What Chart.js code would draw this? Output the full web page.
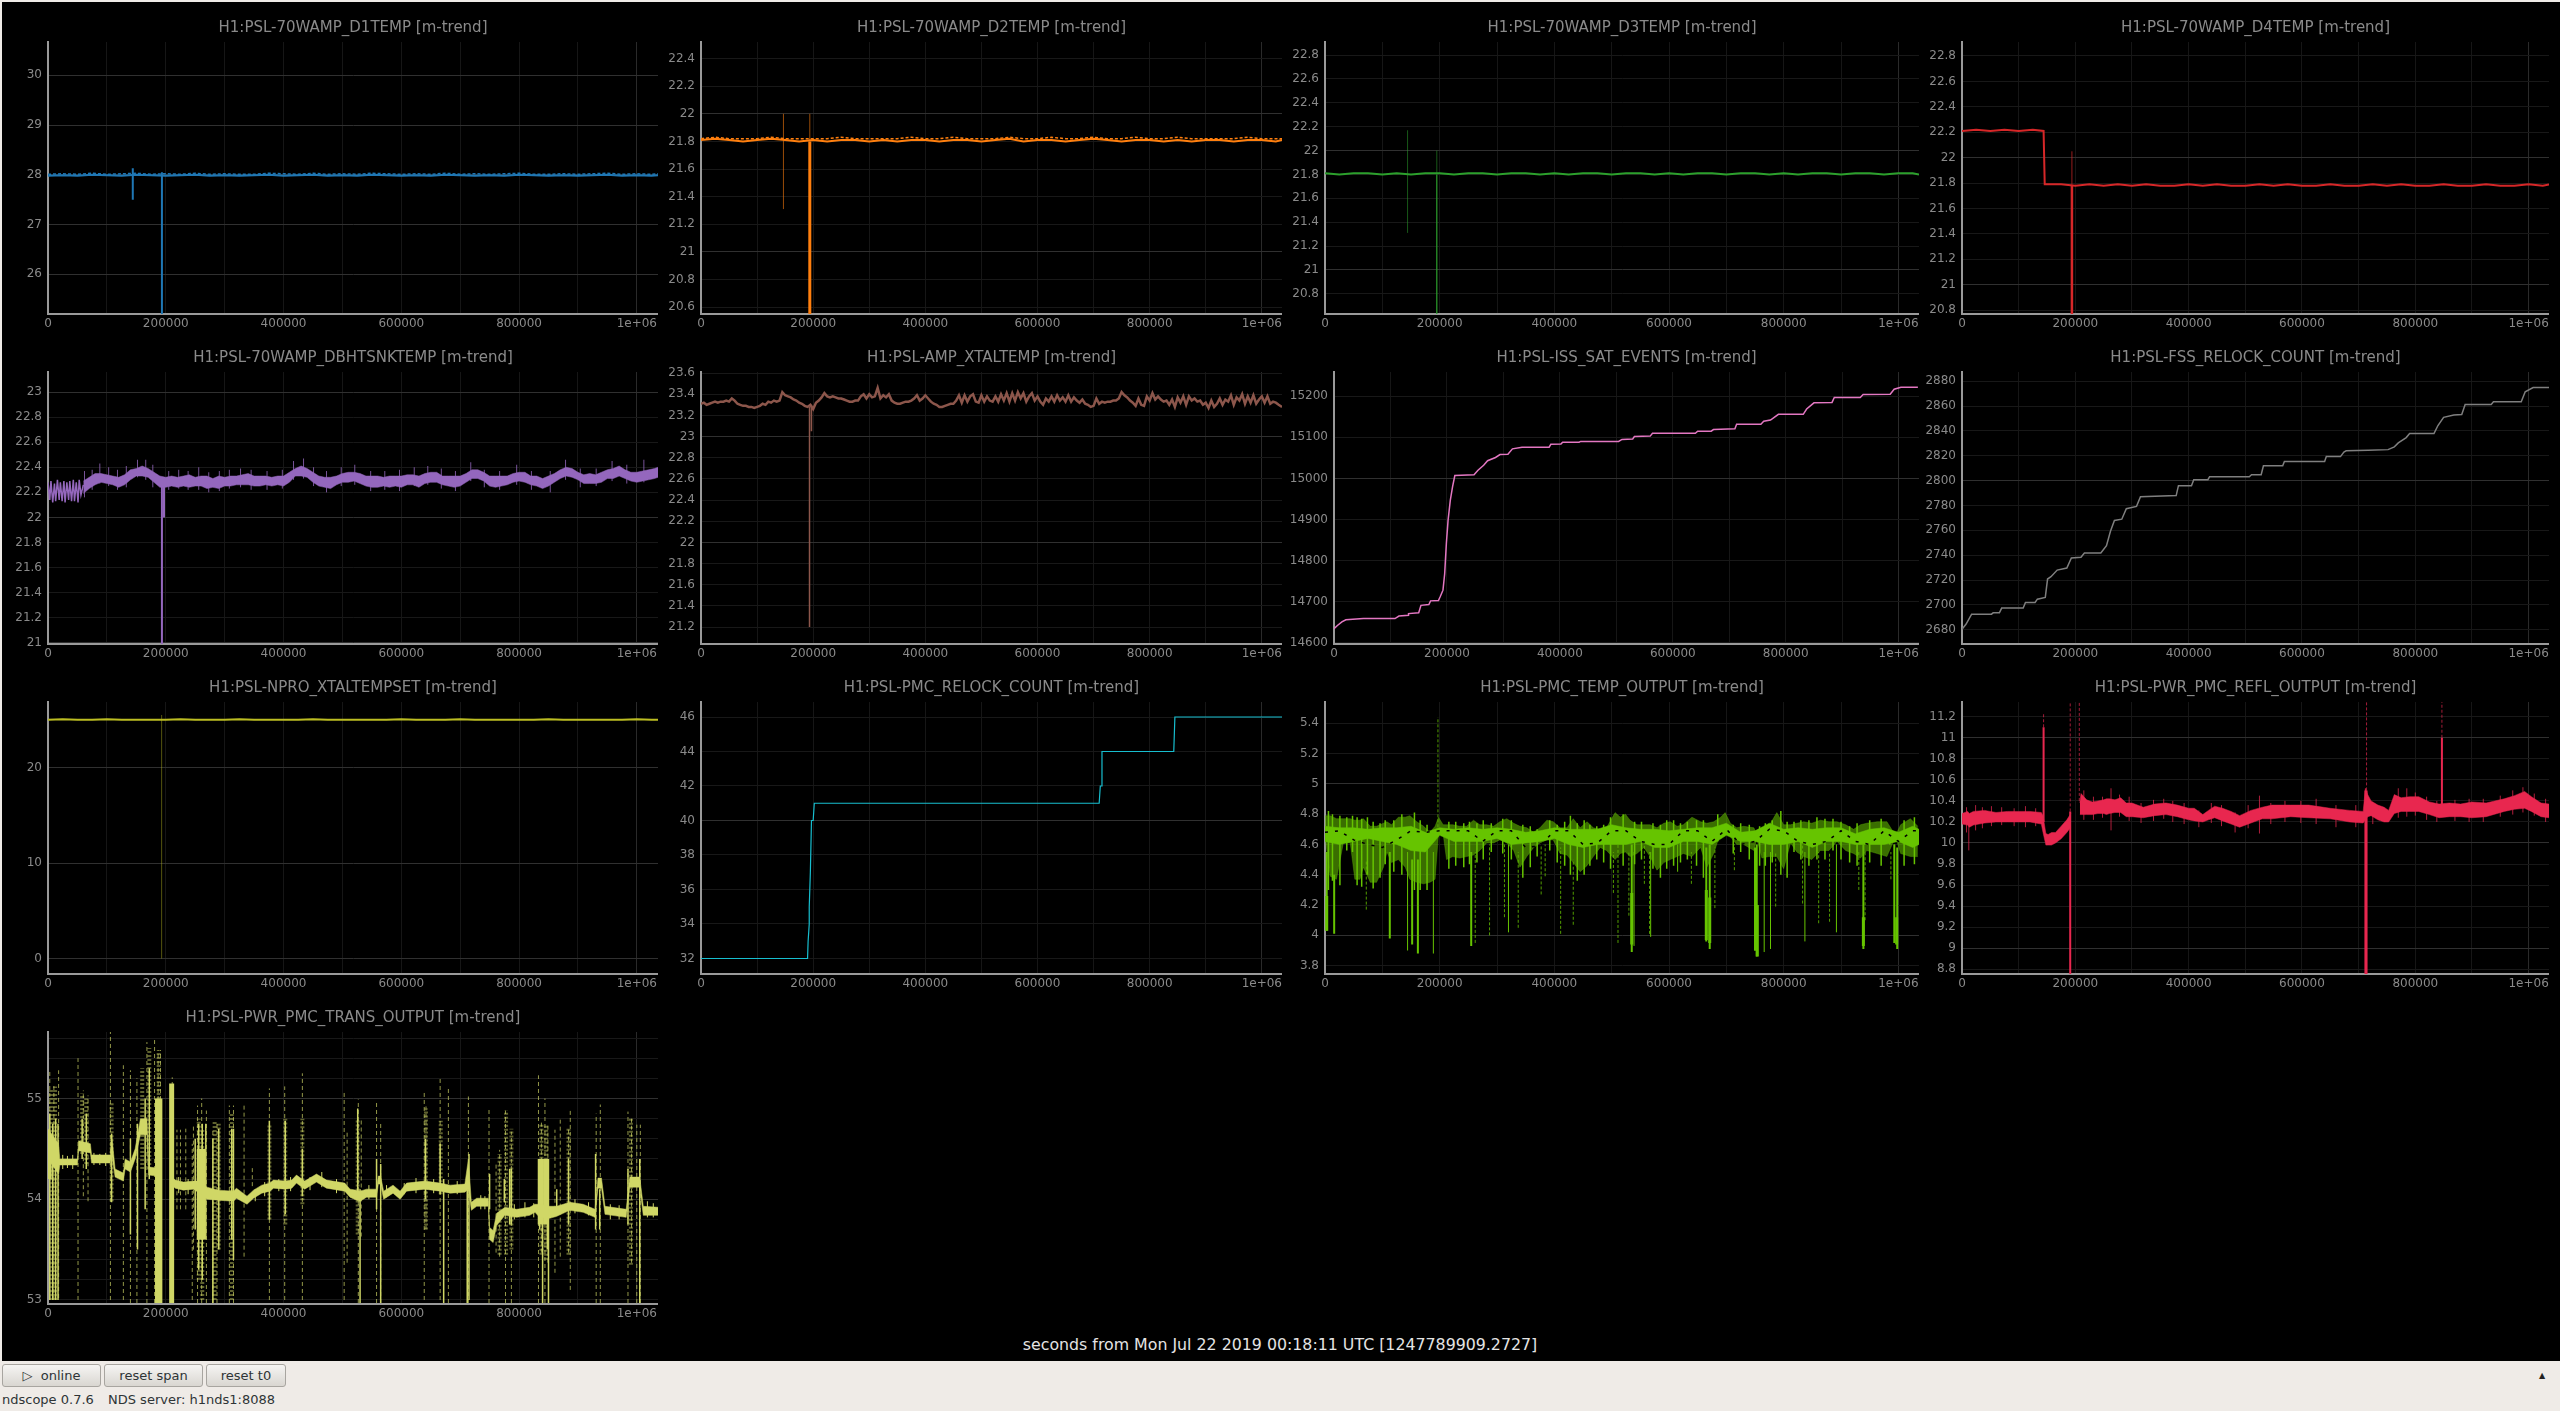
<!DOCTYPE html>
<html>
<head>
<meta charset="utf-8">
<title>ndscope</title>
<script src="https://cdn.jsdelivr.net/npm/chart.js@4/dist/chart.umd.min.js"></script>
<style>
    html, body { margin: 0; padding: 0; width: 2560px; height: 1411px; overflow: hidden; background: #efebe7; font-family: "DejaVu Sans", sans-serif; }
    #scope { position: absolute; left: 2px; top: 2px; width: 2558px; height: 1359px; background: #000; }
    canvas { position: absolute; }
    #xlabel { position: absolute; left: 900px; width: 760px; top: 1335px; text-align: center; color: #e4e4e4; font-size: 15.8px; line-height: 20px; }
    .btn { position: absolute; top: 1364px; height: 23px; box-sizing: border-box; border: 1px solid #a8a5a0; border-radius: 3px; background: linear-gradient(#f6f5f3, #d9d6d1); color: #2e3436; font-size: 13px; line-height: 21px; text-align: center; }
    .status { position: absolute; top: 1391px; color: #2e3436; font-size: 13px; line-height: 18px; white-space: pre; }
    #arrow { position: absolute; left: 2539px; top: 1371px; color: #222; font-size: 8px; line-height: 10px; }
</style>
</head>
<body>
<div id="scope"></div>
<div id="xlabel">seconds from Mon Jul 22 2019 00:18:11 UTC [1247789909.2727]</div>
<div class="btn" style="left:2px;width:99px">&#9655;&nbsp;&nbsp;online</div>
<div class="btn" style="left:104px;width:99px">reset span</div>
<div class="btn" style="left:206px;width:80px">reset t0</div>
<div class="status" style="left:2px">ndscope 0.7.6</div>
<div class="status" style="left:108px">NDS server: h1nds1:8088</div>
<div id="arrow">&#9650;</div>
<script>
// all x values below are in thousands of seconds
const xGrid = [0, 100000, 200000, 300000, 400000, 500000, 600000, 700000, 800000, 900000, 1000000];
const xLabels = ['0', '', '200000', '', '400000', '', '600000', '', '800000', '', '1e+06'];

const coarseX = [0,25,50,75,100,125,150,175,200,225,250,275,300,325,350,375,400,425,450,475,500,525,550,575,600,625,650,675,700,725,750,775,800,825,850,875,900,925,950,975,1000,1025,1036];
const gridX = [60,70,80,90,100,110,120,130,140,150,
    160,170,180,190,200,210,220,230,240,250,
    260,270,280,290,300,310,320,330,340,350,
    360,370,380,390,400,410,420,430,440,450,
    460,470,480,490,500,510,520,530,540,550,
    560,570,580,590,600,610,620,630,640,650,
    660,670,680,690,700,710,720,730,740,750,
    760,770,780,790,800,810,820,830,840,850,
    860,870,880,890,900,910,920,930,940,950,
    960,970,980,990,1000,1010,1020,1030,1036];

// D1
const d1Ticks = [26, 27, 28, 29, 30];
const d1Y = [27.98,27.99,27.98,28.00,27.99,27.98,28.00,27.99,27.98,27.99,28.00,27.98,27.99,27.98,27.99,28.00,27.98,27.99,28.00,27.98,27.99,27.98,28.00,27.99,27.98,27.99,27.98,28.00,27.99,27.98,27.99,27.98,28.00,27.99,27.98,27.99,27.98,27.99,28.00,27.98,27.99,27.98,27.99];
const d1Hi = [28.01,28.02,28.01,28.03,28.01,28.02,28.03,28.01,28.02,28.01,28.03,28.01,28.02,28.01,28.01,28.03,28.02,28.01,28.03,28.01,28.02,28.01,28.03,28.02,28.01,28.02,28.01,28.03,28.01,28.02,28.01,28.02,28.03,28.01,28.01,28.02,28.01,28.02,28.03,28.01,28.02,28.01,28.02];
const d1SpikeX = [144, 193.5];
const d1SpikeLo = [27.5, 25.2];
const d1SpikeHi = [28.13, 28.05];

// D2
const d2Ticks = [20.6,20.8,21,21.2,21.4,21.6,21.8,22,22.2,22.4];
const d2Major = [21, 22];
const d2Y = [21.81,21.82,21.81,21.80,21.81,21.82,21.81,21.80,21.81,21.80,21.81,21.81,21.80,21.81,21.80,21.81,21.81,21.80,21.81,21.81,21.80,21.81,21.82,21.80,21.81,21.81,21.80,21.81,21.82,21.81,21.80,21.81,21.81,21.80,21.81,21.80,21.81,21.81,21.80,21.81,21.81,21.80,21.81];
const d2Hi = [21.82,21.83,21.82,21.82,21.82,21.83,21.82,21.82,21.82,21.82,21.83,21.82,21.82,21.82,21.82,21.83,21.82,21.82,21.83,21.82,21.82,21.82,21.83,21.82,21.82,21.83,21.82,21.82,21.83,21.82,21.82,21.83,21.82,21.82,21.83,21.82,21.82,21.82,21.82,21.83,21.82,21.82,21.82];
const d2ThinX = [147, 194];
const d2ThinLo = [21.31, 21.8];
const d2ThinHi = [22.0, 22.0];
const d2DropX = [194];
const d2DropLo = [20.55];
const d2DropHi = [21.8];

// D3
const d3Ticks = [20.8,21,21.2,21.4,21.6,21.8,22,22.2,22.4,22.6,22.8];
const d3Major = [21, 22];
const d3Y = [21.81,21.80,21.81,21.81,21.80,21.81,21.80,21.81,21.81,21.80,21.81,21.81,21.80,21.81,21.81,21.80,21.81,21.80,21.81,21.81,21.80,21.81,21.81,21.80,21.81,21.80,21.81,21.81,21.80,21.81,21.81,21.80,21.81,21.80,21.81,21.81,21.80,21.81,21.81,21.80,21.81,21.81,21.80];
const d3ThinX = [144, 195];
const d3ThinLo = [21.31, 21.8];
const d3ThinHi = [22.17, 22.0];
const d3DropX = [195];
const d3DropLo = [20.63];
const d3DropHi = [21.8];

// D4
const d4Ticks = [20.8,21,21.2,21.4,21.6,21.8,22,22.2,22.4,22.6,22.8];
const d4Major = [21, 22];
const d4X = [0,25,50,75,100,125,144,146,175,200,225,250,275,300,325,350,375,400,425,450,475,500,525,550,575,600,625,650,675,700,725,750,775,800,825,850,875,900,925,950,975,1000,1025,1036];
const d4Y = [22.21,22.22,22.21,22.22,22.21,22.22,22.21,21.79,21.79,21.78,21.79,21.78,21.79,21.78,21.79,21.78,21.78,21.79,21.78,21.79,21.78,21.78,21.79,21.78,21.79,21.78,21.78,21.79,21.78,21.78,21.79,21.78,21.79,21.78,21.78,21.79,21.78,21.78,21.79,21.78,21.78,21.79,21.78,21.79];
const d4ThinX = [194];
const d4ThinLo = [21.78];
const d4ThinHi = [22.05];
const d4DropX = [194];
const d4DropLo = [20.77];
const d4DropHi = [21.78];

// DBHTSNK
const dbhTicks = [21,21.2,21.4,21.6,21.8,22,22.2,22.4,22.6,22.8,23];
const dbhMajor = [21, 22, 23];
const dbhSawX = [0,3,5,8,11,13,16,19,21,24,27,29,32,35,37,40,43,45,48,51,53,56,60];
const dbhSawY = [22.28,22.14,22.29,22.12,22.27,22.13,22.30,22.14,22.28,22.13,22.29,22.12,22.28,22.14,22.29,22.13,22.30,22.13,22.28,22.12,22.30,22.18,22.26];
const dbhHi = [22.29,22.32,22.35,22.35,22.34,22.33,22.32,22.34,22.38,22.39,
    22.41,22.39,22.36,22.33,22.32,22.33,22.32,22.33,22.34,22.32,
    22.33,22.33,22.31,22.33,22.32,22.33,22.33,22.34,22.35,22.33,
    22.33,22.33,22.32,22.33,22.33,22.36,22.39,22.41,22.39,22.36,
    22.33,22.32,22.32,22.33,22.35,22.36,22.36,22.35,22.33,22.33,
    22.33,22.32,22.33,22.33,22.33,22.34,22.34,22.33,22.35,22.36,
    22.36,22.33,22.33,22.33,22.33,22.35,22.38,22.38,22.36,22.33,
    22.33,22.33,22.33,22.35,22.36,22.36,22.33,22.33,22.31,22.33,
    22.35,22.38,22.40,22.39,22.36,22.34,22.35,22.34,22.36,22.38,
    22.39,22.41,22.38,22.36,22.36,22.37,22.38,22.39,22.40];
const dbhLo = [22.19,22.23,22.26,22.28,22.27,22.26,22.24,22.26,22.30,22.33,
    22.33,22.32,22.28,22.24,22.24,22.25,22.24,22.25,22.24,22.25,
    22.25,22.23,22.24,22.23,22.25,22.25,22.26,22.26,22.26,22.25,
    22.25,22.26,22.25,22.26,22.25,22.28,22.33,22.33,22.32,22.28,
    22.25,22.24,22.23,22.26,22.28,22.28,22.29,22.27,22.25,22.24,
    22.24,22.25,22.24,22.25,22.24,22.26,22.26,22.24,22.27,22.28,
    22.28,22.26,22.25,22.24,22.25,22.28,22.31,22.31,22.29,22.25,
    22.24,22.25,22.26,22.28,22.29,22.28,22.26,22.25,22.23,22.25,
    22.28,22.31,22.33,22.32,22.30,22.27,22.27,22.27,22.28,22.31,
    22.31,22.33,22.31,22.29,22.28,22.29,22.30,22.31,22.32];
const dbhSpikeX = [193.5, 197];
const dbhSpikeLo = [20.99, 22.0];
const dbhSpikeHi = [22.28, 22.3];
const dbhHairX = [62,75,88,103,118,133,152,166,178,205,222,238,256,273,291,308,327,345,372,398,417,434,451,473,498,521,548,572,597,622,645,668,692,718,741,767,796,821,853,879,904,931,958,983,1012];
const dbhHairHi = [22.37,22.38,22.43,22.40,22.38,22.41,22.46,22.46,22.42,22.37,22.38,22.37,22.40,22.36,22.37,22.38,22.39,22.38,22.37,22.38,22.45,22.47,22.40,22.37,22.40,22.42,22.37,22.37,22.38,22.40,22.41,22.39,22.37,22.44,22.38,22.37,22.42,22.37,22.37,22.46,22.39,22.39,22.45,22.42,22.46];
const dbhHairLo = [22.16,22.22,22.27,22.25,22.22,22.24,22.32,22.30,22.24,22.22,22.23,22.22,22.22,22.20,22.21,22.23,22.24,22.22,22.22,22.23,22.30,22.31,22.25,22.20,22.25,22.26,22.21,22.22,22.21,22.25,22.26,22.23,22.21,22.29,22.24,22.22,22.26,22.22,22.20,22.30,22.24,22.25,22.29,22.27,22.28];

// XTAL
const xtalTicks = [21.2,21.4,21.6,21.8,22,22.2,22.4,22.6,22.8,23,23.2,23.4,23.6];
const xtalMajor = [22, 23];
const xtalX = [0,5,10,15,20,25,30,35,40,45,50,55,60,65,70,75,80,85,90,95,
    100,105,110,115,120,125,130,135,140,145,150,155,160,165,170,175,180,185,190,195,
    200,205,210,215,220,225,230,235,240,245,250,255,260,265,270,275,280,285,290,295,
    300,305,310,315,320,325,330,335,340,345,350,355,360,365,370,375,380,385,390,395,
    400,405,410,415,420,425,430,435,440,445,450,455,460,465,470,475,480,485,490,495,
    500,505,510,515,520,525,530,535,540,545,550,555,560,565,570,575,580,585,590,595,
    600,605,610,615,620,625,630,635,640,645,650,655,660,665,670,675,680,685,690,695,
    700,705,710,715,720,725,730,735,740,745,750,755,760,765,770,775,780,785,790,795,
    800,805,810,815,820,825,830,835,840,845,850,855,860,865,870,875,880,885,890,895,
    900,905,910,915,920,925,930,935,940,945,950,955,960,965,970,975,980,985,990,995,
    1000,1005,1010,1015,1020,1025,1030,1036];
const xtalY = [23.31,23.32,23.30,23.31,23.32,23.33,23.32,23.33,23.33,23.34,23.33,23.36,23.34,23.31,23.30,23.29,23.29,23.28,23.28,23.27,
    23.28,23.29,23.31,23.30,23.33,23.32,23.34,23.33,23.34,23.42,23.39,23.38,23.37,23.35,23.34,23.32,23.31,23.29,23.28,23.30,
    23.26,23.32,23.34,23.37,23.41,23.38,23.37,23.38,23.37,23.36,23.36,23.35,23.34,23.33,23.33,23.34,23.34,23.38,23.40,23.36,
    23.40,23.37,23.38,23.46,23.36,23.39,23.37,23.40,23.34,23.32,23.31,23.31,23.32,23.33,23.33,23.34,23.36,23.39,23.34,23.36,
    23.39,23.36,23.33,23.31,23.30,23.28,23.28,23.29,23.30,23.31,23.31,23.34,23.39,23.32,23.39,23.33,23.38,23.40,23.33,23.32,
    23.39,23.33,23.38,23.34,23.33,23.38,23.33,23.40,23.34,23.41,23.33,23.41,23.34,23.42,23.36,23.41,23.33,23.38,23.41,23.34,
    23.38,23.33,23.30,23.36,23.33,23.38,23.33,23.39,23.34,23.37,23.33,23.39,23.33,23.37,23.34,23.32,23.35,23.31,23.30,23.28,
    23.29,23.36,23.31,23.33,23.32,23.33,23.33,23.34,23.34,23.36,23.42,23.39,23.37,23.34,23.32,23.29,23.36,23.30,23.29,23.38,
    23.34,23.41,23.35,23.38,23.35,23.33,23.34,23.30,23.35,23.28,23.37,23.32,23.38,23.30,23.38,23.34,23.36,23.33,23.34,23.30,
    23.32,23.27,23.34,23.28,23.31,23.36,23.30,23.35,23.33,23.39,23.30,23.37,23.34,23.40,23.31,23.38,23.32,23.39,23.31,23.35,
    23.38,23.32,23.38,23.31,23.33,23.32,23.30,23.28];
const xtalSpikeX = [193.5, 197];
const xtalSpikeLo = [21.2, 23.05];
const xtalSpikeHi = [23.28, 23.3];

// ISS_SAT_EVENTS
const issTicks = [14600,14700,14800,14900,15000,15100,15200];
const issMajor = [15000];
const issX = [0,6,14,21,52,108,115,132,132,150,154,168,171,185,188,193,196,199,202,206,210,214,248,255,265,272,286,294,308,316,333,381,384,402,405,434,437,504,510,529,532,560,564,640,644,668,672,710,713,756,761,773,787,831,837,850,882,886,932,937,985,992,1004,1034];
const issY = [14634,14642,14651,14656,14659,14659,14665,14667,14671,14673,14691,14693,14702,14703,14712,14728,14768,14842,14898,14947,14980,15007,15009,15020,15032,15043,15051,15058,15059,15072,15076,15076,15083,15084,15088,15088,15090,15090,15095,15096,15102,15103,15110,15110,15115,15115,15119,15121,15132,15132,15139,15142,15156,15156,15169,15184,15185,15197,15197,15204,15205,15217,15222,15222];

// FSS_RELOCK_COUNT
const fssTicks = [2680,2700,2720,2740,2760,2780,2800,2820,2840,2860,2880];
const fssMajor = [2800];
const fssX = [0,7,17,52,55,66,70,108,112,129,133,147,151,157,168,185,193,210,216,245,255,262,269,282,290,308,315,378,382,405,409,434,437,507,511,528,532,566,569,640,643,668,674,678,717,752,763,770,784,790,833,840,850,868,882,888,934,938,987,994,1008,1036];
const fssY = [2680.4,2684.4,2692.5,2692.5,2693.6,2693.6,2697.4,2697.4,2702,2702,2704.6,2706,2720.8,2722.7,2728,2729.7,2737.8,2738.3,2741.8,2741.8,2747.7,2759.3,2768,2769,2777.4,2779.3,2787,2788,2796,2796,2800.8,2800.8,2803.2,2803.2,2804.8,2804.8,2812,2812,2815.4,2815.4,2819.4,2819.4,2823,2824,2824.5,2825,2827.2,2830.4,2834.7,2838,2838,2844.4,2851,2852.8,2853.3,2861.4,2861.4,2863.6,2863.6,2871.6,2875,2875];

// NPRO_XTALTEMPSET
const nproTicks = [0, 10, 20];
const nproY = [25,25.05,25,25,25.05,25,25,25,25,25.05,25,25,25,25.05,25,25,25,25,25.05,25,25,25,25,25,25.05,25,25,25,25.05,25,25,25,25,25,25.05,25,25,25,25,25,25.05,25,25];
const nproSpikeX = [193];
const nproSpikeLo = [0];
const nproSpikeHi = [25.5];

// PMC_RELOCK_COUNT
const relockTicks = [32,34,36,38,40,42,44,46];
const relockMajor = [40];
const relockX = [0,190,191,193,193,195,197,200,202,710,712,714,715,843,845,1036];
const relockY = [32,32,33,34,35,37,40,40,41,41,42,42,44,44,46,46];

// PMC_TEMP_OUTPUT
const tempTicks = [3.8,4,4.2,4.4,4.6,4.8,5,5.2,5.4];
const tempMajor = [4, 5];
const tempX = [0,9,20,32,44,52,61,67,79,90,
    102,108,116,128,140,148,160,172,183,192,
    198,206,212,223,235,247,259,270,282,294,
    305,317,329,340,352,364,375,387,398,410,
    422,433,445,457,468,480,491,506,515,524,
    532,544,556,567,579,591,602,614,625,640,
    655,666,678,690,698,707,718,730,748,753,
    762,774,788,800,812,823,835,849,864,879,
    893,908,922,934,945,963,980,995,1004,1021,
    1034];
const tempHi = [4.79,4.79,4.77,4.77,4.77,4.76,4.76,4.77,4.72,4.72,
    4.74,4.75,4.73,4.78,4.78,4.79,4.75,4.72,4.68,4.72,
    4.78,4.73,4.73,4.73,4.72,4.72,4.76,4.73,4.73,4.72,
    4.75,4.77,4.74,4.72,4.71,4.68,4.71,4.76,4.75,4.71,
    4.71,4.77,4.71,4.75,4.71,4.70,4.71,4.81,4.78,4.80,
    4.76,4.73,4.73,4.73,4.71,4.74,4.75,4.72,4.73,4.78,
    4.75,4.74,4.75,4.78,4.81,4.74,4.71,4.72,4.71,4.67,
    4.71,4.72,4.81,4.73,4.73,4.74,4.75,4.74,4.76,4.75,
    4.75,4.73,4.70,4.73,4.74,4.75,4.75,4.66,4.73,4.77,
    4.72];
const tempLo = [4.65,4.39,4.37,4.61,4.61,4.37,4.37,4.45,4.35,4.35,
    4.45,4.55,4.48,4.50,4.45,4.37,4.35,4.34,4.35,4.37,
    4.67,4.67,4.50,4.52,4.51,4.52,4.53,4.56,4.61,4.61,
    4.63,4.61,4.56,4.45,4.52,4.58,4.61,4.63,4.63,4.54,
    4.53,4.48,4.42,4.46,4.52,4.58,4.56,4.50,4.54,4.55,
    4.52,4.54,4.58,4.52,4.43,4.48,4.50,4.52,4.54,4.52,
    4.58,4.45,4.54,4.68,4.69,4.65,4.60,4.60,4.56,4.64,
    4.51,4.52,4.52,4.44,4.61,4.55,4.52,4.50,4.56,4.56,
    4.62,4.56,4.54,4.51,4.56,4.54,4.52,4.65,4.54,4.52,
    4.52];
const tempCoreHi = [4.72,4.71,4.71,4.70,4.71,4.71,4.72,4.68,4.71,4.70,4.71,4.70,4.71,4.70,4.68,4.69,4.71,4.70,4.70,4.70,4.73,4.71,4.70,4.70,4.69,4.70,4.71,4.71,4.74,4.68,4.69,4.74,4.70,4.71,4.70,4.71,4.71,4.67,4.70,4.71,4.68,4.72,4.70];
const tempCoreLo = [4.62,4.60,4.62,4.64,4.62,4.60,4.56,4.55,4.66,4.62,4.62,4.62,4.64,4.60,4.61,4.62,4.64,4.60,4.58,4.60,4.60,4.60,4.62,4.58,4.58,4.62,4.62,4.60,4.66,4.62,4.62,4.60,4.60,4.62,4.58,4.62,4.62,4.60,4.60,4.60,4.62,4.58,4.60];
const tempHole = [4.68,4.69,4.63,4.60,4.58,4.63,4.69,4.68,4.69,4.69,4.69,4.62,4.69,4.69,4.58,4.59,4.69,4.69,4.60,4.61,4.69,4.69,4.62,4.60,4.60,4.69,4.69,4.62,4.70,4.60,4.62,4.70,4.69,4.62,4.60,4.62,4.69,4.62,4.60,4.69,4.62,4.69,4.69];
const tempHairX = [6,13,26,38,48,56,64,74,84,96,105,120,134,156,166,178,216,228,242,252,265,276,290,310,325,345,358,370,392,405,418,428,440,452,462,474,486,498,520,540,552,572,585,596,608,620,632,648,660,685,712,725,740,758,768,780,795,806,818,830,844,858,872,886,900,915,928,950,970,985,1010,1028];
const tempHairLo = [4.30,4.36,4.33,4.56,4.55,4.33,4.32,4.40,4.31,4.38,
    4.47,4.42,4.40,4.30,4.30,4.30,4.44,4.46,4.45,4.47,
    4.48,4.50,4.55,4.54,4.50,4.38,4.45,4.52,4.56,4.48,
    4.46,4.40,4.36,4.40,4.46,4.50,4.48,4.44,4.46,4.47,
    4.50,4.44,4.38,4.44,4.46,4.48,4.50,4.46,4.38,4.62,
    4.54,4.55,4.50,4.46,4.46,4.48,4.40,4.38,4.55,4.50,
    4.46,4.50,4.50,4.56,4.50,4.48,4.46,4.48,4.46,4.60,
    4.46,4.47];
const tempHairHi = [4.82,4.80,4.79,4.78,4.79,4.78,4.77,4.78,4.75,4.74,
    4.76,4.76,4.80,4.81,4.76,4.73,4.75,4.75,4.74,4.75,
    4.74,4.76,4.74,4.77,4.76,4.73,4.72,4.70,4.76,4.73,
    4.75,4.79,4.74,4.76,4.73,4.72,4.73,4.78,4.80,4.75,
    4.75,4.74,4.73,4.76,4.76,4.74,4.75,4.76,4.76,4.80,
    4.73,4.74,4.73,4.72,4.74,4.76,4.82,4.75,4.75,4.76,
    4.76,4.78,4.77,4.77,4.75,4.72,4.74,4.76,4.77,4.68,
    4.76,4.78];
const tempThickX = [3,16,113,152,162,255,535,665,671,750,753,939,993,998];
const tempThickLo = [4.03,4.01,3.98,3.94,3.88,3.93,3.89,3.96,3.91,3.90,3.86,3.91,3.95,3.91];
const tempThickHi = [4.55,4.40,4.55,4.50,4.50,4.55,4.60,4.58,4.60,4.58,4.60,4.60,4.60,4.58];
const tempBlockX = [3,535,665,671,751,754,939,997];
const tempBlockLo = [4.03,3.94,3.97,3.95,3.90,3.86,3.93,3.94];
const tempBlockHi = [4.26,4.28,4.30,4.25,4.22,4.20,4.12,4.12];
const tempThinX = [144,189,320,539,568,615,766,777,837,892,993];
const tempThinLo = [3.90,3.88,4.02,3.93,3.99,4.42,3.89,3.91,3.96,4.02,3.95];
const tempThinHi = [4.55,4.55,4.60,4.55,4.55,4.60,4.55,4.55,4.55,4.60,4.60];
const tempDashX = [72,197,262,287,313,337,377,384,411,433,503,511,530,557,566,639,680,714,786,833,861,880,931,942,987];
const tempDashLo = [4.17,4.68,3.95,4.00,4.12,4.05,4.27,4.39,4.01,4.07,4.28,3.95,4.13,4.34,4.01,4.34,4.18,4.43,4.19,4.21,4.08,4.09,4.30,4.10,4.37];
const tempDashHi = [4.50,5.44,4.55,4.60,4.60,4.55,4.60,4.60,4.58,4.50,4.55,4.60,4.55,4.60,4.55,4.55,4.58,4.60,4.55,4.60,4.55,4.55,4.55,4.55,4.55];

// PWR_PMC_REFL_OUTPUT
const reflTicks = [8.8,9,9.2,9.4,9.6,9.8,10,10.2,10.4,10.6,10.8,11,11.2];
const reflMajor = [9, 10, 11];
const reflX = [0,10,13,20,40,60,80,100,120,140,
    143,148,152,158,165,175,185,192,200,208,210,
    220,230,240,250,255,260,270,280,290,300,
    320,340,360,380,400,410,425,435,446,460,
    475,490,510,530,547,580,612,650,684,708,
    712,716,722,734,745,753,763,775,790,806,
    825,842,860,880,900,925,957,975,993,1005,
    1022,1036];
const reflHi = [10.28,10.30,10.28,10.30,10.31,10.29,10.30,10.30,10.30,10.29,
    10.26,10.09,10.08,10.10,10.10,10.16,10.22,10.28,null,10.38,10.47,
    10.41,10.39,10.40,10.41,10.42,10.42,10.41,10.43,10.38,10.38,
    10.34,10.37,10.38,10.36,10.33,10.33,10.27,10.31,10.35,10.33,
    10.30,10.26,10.31,10.34,10.36,10.36,10.36,10.33,10.31,10.30,
    10.52,10.46,10.40,10.36,10.34,10.31,10.46,10.43,10.44,10.44,
    10.39,10.37,10.38,10.37,10.39,10.38,10.42,10.45,10.49,10.44,
    10.38,10.37];
const reflLo = [10.18,10.17,10.15,10.17,10.19,10.20,10.20,10.20,10.20,10.18,
    10.10,9.98,9.98,9.98,10.00,10.04,10.10,10.15,null,10.27,10.27,
    10.27,10.27,10.28,10.28,10.27,10.28,10.29,10.29,10.25,10.25,
    10.24,10.26,10.27,10.25,10.22,10.21,10.20,10.22,10.24,10.21,
    10.18,10.15,10.19,10.23,10.23,10.25,10.24,10.23,10.20,10.19,
    10.22,10.25,10.26,10.22,10.20,10.20,10.28,10.30,10.30,10.30,
    10.27,10.24,10.25,10.25,10.24,10.25,10.30,10.32,10.33,10.30,
    10.25,10.24];
const reflSolidX = [144, 191, 712, 714, 847];
const reflSolidLo = [10.2, 8.755, 8.755, 8.755, 10.35];
const reflSolidHi = [11.1, 10.3, 10.5, 10.5, 11.0];
const reflDashX = [144, 191, 207, 714, 847];
const reflDashLo = [11.1, 10.3, 10.4, 10.5, 11.0];
const reflDashHi = [11.24, 11.34, 11.34, 11.34, 11.34];
const reflHairX = [8,12,24,36,52,70,92,112,130,215,232,248,263,278,295,316,338,356,372,392,418,440,458,482,505,525,545,570,598,625,660,695,725,770,785,800,820,838,870,895,920,950,972,990,1010,1030];
const reflHairHi = [10.34,10.2,10.36,10.34,10.35,10.34,10.33,10.35,10.33,10.50,10.44,10.44,10.52,10.46,10.44,10.38,10.41,10.42,10.40,10.38,10.31,10.38,10.36,10.29,10.36,10.45,10.38,10.40,10.40,10.42,10.36,10.36,10.38,10.52,10.52,10.48,10.44,10.40,10.41,10.42,10.42,10.45,10.50,10.53,10.47,10.42];
const reflHairLo = [10.10,9.93,10.12,10.14,10.16,10.17,10.16,10.15,10.16,10.22,10.22,10.24,10.12,10.25,10.21,10.19,10.21,10.23,10.20,10.18,10.15,10.19,10.16,10.10,10.14,10.09,10.18,10.20,10.19,10.18,10.15,10.15,10.18,10.24,10.25,10.26,10.22,10.20,10.21,10.20,10.20,10.25,10.27,10.29,10.26,10.20];

// PWR_PMC_TRANS_OUTPUT
const transTicks = [53,53.2,53.4,53.6,53.8,54,54.2,54.4,54.6,54.8,55,55.2,55.4,55.6];
const transLabels = [53, 54, 55];
const transMajor = [54, 55];
const transX = [0,18,20,50,52,72,74,106,108,114,
    128,131,140,148,157,168,171,185,193,200,
    208,216,230,247,258,270,290,315,320,338,
    349,363,377,383,403,414,422,436,456,473,
    504,513,524,530,541,558,561,565,570,586,
    598,609,640,666,683,708,714,719,728,748,
    750,756,762,776,796,818,827,835,852,864,
    886,909,929,934,940,946,982,988,1005,1011,
    1036];
const transHi = [54.70,54.55,54.40,54.40,54.58,54.55,54.44,54.44,54.65,54.30,
    54.26,54.40,54.37,54.50,54.80,54.80,54.32,54.31,54.30,null,
    54.24,54.19,54.17,54.18,54.18,54.12,54.09,54.08,54.11,54.03,
    54.09,54.14,54.16,54.19,54.18,54.19,54.24,54.18,54.25,54.19,
    54.16,54.10,54.09,54.08,54.10,54.10,54.23,54.23,54.08,54.14,
    54.08,54.16,54.18,54.16,54.14,54.15,54.40,53.97,54.01,54.01,
    53.72,53.69,53.86,53.92,53.90,53.92,53.95,53.95,53.93,53.93,
    53.97,53.95,53.90,54.21,54.21,53.93,53.90,54.22,54.22,53.93,
    53.92];
const transLo = [54.40,54.25,54.34,54.34,54.48,54.46,54.36,54.36,54.45,54.22,
    54.18,54.30,54.27,54.40,54.64,54.64,54.24,54.23,54.20,null,
    54.16,54.11,54.09,54.10,54.06,54.00,53.99,53.98,54.01,53.95,
    54.01,54.06,54.08,54.11,54.10,54.11,54.16,54.10,54.17,54.11,
    54.08,54.02,53.99,53.98,54.02,54.02,54.15,54.15,54.00,54.06,
    54.00,54.08,54.10,54.08,54.06,54.07,54.10,53.89,53.93,53.93,
    53.60,53.57,53.74,53.84,53.82,53.84,53.87,53.82,53.81,53.83,
    53.89,53.87,53.82,54.11,54.11,53.85,53.82,54.12,54.12,53.84,
    53.84];
const transDashX = [3,10,18,51,60,68,106,128,140,151,168,181,187,191,211,219,225,234,245,247,254,261,269,280,287,308,315,333,347,376,402,432,503,508,527,532,558,565,639,642,666,680,714,749,761,767,777,787,833,838,844,849,861,870,884,887,931,938,985,991,1000,1006];
const transDashLo = [53.0,53.0,53.02,53.0,54.03,53.98,53.0,53.0,52.97,52.97,52.97,52.97,52.97,52.97,52.97,53.9,53.9,53.9,53.0,53.5,52.97,52.97,52.97,52.97,52.97,52.97,52.97,53.43,54.13,53.0,53.0,53.0,53.0,53.37,52.97,53.63,52.97,52.97,53.0,53.7,53.0,52.97,52.97,52.97,53.47,53.43,52.97,52.97,52.97,53.47,52.97,53.37,53.27,53.43,53.47,53.1,52.97,52.97,52.97,53.37,52.97,52.97];
const transDashHi = [55.28,55.15,55.28,55.40,55.08,55.03,55.66,55.33,55.28,55.2,55.56,55.58,55.48,55.48,55.21,54.69,54.69,54.7,54.55,54.74,54.93,55,54.88,54.69,54.75,54.93,54.93,54.93,54.31,55.1,55.12,55.25,55.07,54.69,54.99,54.8,54.98,54.75,55.06,54.94,55.21,55.12,55.02,54.9,54.36,54.49,54.88,54.67,55.23,54.79,55,54.74,54.69,54.81,54.69,54.89,54.85,54.94,54.87,54.8,54.74,54.74];
const transHaloX = [5,12,58,65,108,160,172,188,256,262,283,290,312,376,403,432,526,642,667,767,778,787,838,846,884,990];
const transHaloLo = [53.0,53.0,54.45,54.35,53.98,54.3,54.3,52.97,53.2,53.0,53.0,53.5,53.0,53.8,53.75,53.95,53.65,53.7,54.05,53.45,53.45,53.5,53.45,53.4,53.45,53.35];
const transHaloHi = [55.1,55.12,55.05,55.0,54.97,55.3,55.5,55.48,54.8,54.7,54.78,54.75,54.85,54.75,54.8,54.8,54.8,54.9,54.78,54.45,54.88,54.7,54.75,54.75,54.7,54.8];
const transSolidX = [3,8,13,17,58,65,108,140,152,165,172,250,256,262,268,280,290,312,315,376,403,432,526,530,558,565,641,666,672,712,715,750,775,784,787,835,840,848,850,864,884,930,937,985,1005];
const transSolidLo = [53.0,53.0,53.0,53.0,54.4,54.3,53.97,53.65,53.5,53.9,54.2,53.7,53.3,53.2,53.6,52.97,53.5,53.6,53.4,53.8,53.85,54.03,54.03,52.97,53.9,52.97,54.0,54.05,52.97,52.97,53.0,53.9,53.97,53.75,53.75,53.7,52.97,53.5,52.97,53.9,53.75,53.7,53.7,53.75,52.97];
const transSolidHi = [54.85,54.75,54.8,54.75,54.8,54.85,54.65,54.6,54.75,55.0,55.3,54.6,54.75,54.75,54.75,54.6,54.7,54.7,54.7,54.78,54.78,54.5,54.9,54.1,54.4,54.35,54.6,54.55,54.2,54.1,54.45,54.25,54.2,54.3,54.3,54.4,54.4,54.4,54.4,54.1,54.4,54.45,54.1,54.3,54.4];
const transWideX = [2,186,190,210,257,263,836,845];
const transWideLo = [54.2,52.97,52.97,52.97,53.6,53.6,53.75,53.75];
const transWideHi = [54.62,55.0,55.0,55.15,54.5,54.5,54.4,54.4];
const transHairX = [25,33,42,78,88,98,222,238,352,368,392,412,445,465,490,545,575,605,625,655,695,735,742,792,810,825,895,918,955,970,1018,1028];
const transHairHi = [54.44,54.43,54.44,54.46,54.45,54.46,54.22,54.20,54.10,54.17,54.20,54.22,54.22,54.27,54.20,54.14,54.14,54.16,54.21,54.20,54.18,54.04,54.03,53.95,53.97,53.96,54.0,53.97,53.95,53.94,53.98,53.96];
const transHairLo = [54.30,54.31,54.30,54.34,54.34,54.33,54.06,54.05,53.98,54.03,54.08,54.08,54.09,54.12,54.06,54.0,54.02,54.05,54.06,54.06,54.05,53.90,53.90,53.80,53.82,53.82,53.86,53.84,53.80,53.80,53.82,53.82];

const toSeconds = k => k * 1000;

function linePoints(xs, ys) {
    return xs.map((x, i) => ({ x: toSeconds(x), y: ys[i] }));
}

function line(xs, ys, color, width, dash) {
    return { data: linePoints(xs, ys), borderColor: color, borderWidth: width, borderDash: dash || [], fill: false };
}

// min/max envelope, hi is filled down to the next dataset
function band(xs, hi, lo, edge, fillColor) {
    return [
        { data: linePoints(xs, hi), borderColor: edge, borderWidth: 0.5, fill: '+1', backgroundColor: fillColor },
        { data: linePoints(xs, lo), borderColor: edge, borderWidth: 0.5, fill: false }
    ];
}

// vertical strokes, one broken line per list
function spikes(xs, lo, hi, color, width, dash) {
    const data = [];
    xs.forEach((x, i) => {
        data.push({ x: toSeconds(x), y: lo[i] }, { x: toSeconds(x), y: hi[i] }, { x: toSeconds(x), y: null });
    });
    return { data, borderColor: color, borderWidth: width, borderDash: dash || [], fill: false, spanGaps: false };
}

const columns = { a: [48, 658], b: [701, 1282], c: [1325, 1919], cWide: [1334, 1919], d: [1962, 2549] };
const rowTops = [42, 372, 702, 1032];

const panels = [
    {
        title: 'H1:PSL-70WAMP_D1TEMP [m-trend]', col: columns.a, top: rowTops[0], yMin: 25.2, yMax: 30.67,
        ticks: d1Ticks, major: d1Ticks,
        datasets: [
            line(coarseX, d1Y, '#1f77b4', 2),
            line(coarseX, d1Hi, '#1f77b4', 1.5, [3, 2]),
            spikes(d1SpikeX, d1SpikeLo, d1SpikeHi, '#1f77b4', 2)
        ]
    },
    {
        title: 'H1:PSL-70WAMP_D2TEMP [m-trend]', col: columns.b, top: rowTops[0], yMin: 20.55, yMax: 22.52,
        ticks: d2Ticks, major: d2Major,
        datasets: [
            line(coarseX, d2Y, '#ff7f0e', 2),
            line(coarseX, d2Hi, '#ff7f0e', 1.5, [3, 2]),
            spikes(d2ThinX, d2ThinLo, d2ThinHi, 'rgba(255,127,14,0.6)', 1),
            spikes(d2DropX, d2DropLo, d2DropHi, '#ff7f0e', 3)
        ]
    },
    {
        title: 'H1:PSL-70WAMP_D3TEMP [m-trend]', col: columns.c, top: rowTops[0], yMin: 20.63, yMax: 22.91,
        ticks: d3Ticks, major: d3Major,
        datasets: [
            line(coarseX, d3Y, '#2ca02c', 2),
            spikes(d3ThinX, d3ThinLo, d3ThinHi, 'rgba(44,160,44,0.55)', 1),
            spikes(d3DropX, d3DropLo, d3DropHi, '#2ca02c', 1.2)
        ]
    },
    {
        title: 'H1:PSL-70WAMP_D4TEMP [m-trend]', col: columns.d, top: rowTops[0], yMin: 20.77, yMax: 22.91,
        ticks: d4Ticks, major: d4Major,
        datasets: [
            line(d4X, d4Y, '#d62728', 2),
            spikes(d4ThinX, d4ThinLo, d4ThinHi, 'rgba(214,39,40,0.7)', 1),
            spikes(d4DropX, d4DropLo, d4DropHi, '#d62728', 2.5)
        ]
    },
    {
        title: 'H1:PSL-70WAMP_DBHTSNKTEMP [m-trend]', col: columns.a, top: rowTops[1], yMin: 20.99, yMax: 23.16,
        ticks: dbhTicks, major: dbhMajor,
        datasets: [
            ...band(gridX, dbhHi, dbhLo, '#9467bd', '#9467bd'),
            line(dbhSawX, dbhSawY, '#9467bd', 1.5),
            spikes(dbhHairX, dbhHairLo, dbhHairHi, 'rgba(148,103,189,0.8)', 1),
            spikes(dbhSpikeX, dbhSpikeLo, dbhSpikeHi, '#9467bd', 2)
        ]
    },
    {
        title: 'H1:PSL-AMP_XTALTEMP [m-trend]', col: columns.b, top: rowTops[1], yMin: 21.04, yMax: 23.61,
        ticks: xtalTicks, major: xtalMajor,
        datasets: [
            line(xtalX, xtalY, '#8c564b', 2.5),
            spikes(xtalSpikeX, xtalSpikeLo, xtalSpikeHi, '#8c564b', 1.5)
        ]
    },
    {
        title: 'H1:PSL-ISS_SAT_EVENTS [m-trend]', col: columns.cWide, top: rowTops[1], yMin: 14597, yMax: 15259,
        ticks: issTicks, major: issMajor,
        datasets: [ line(issX, issY, '#e377c2', 1.5) ]
    },
    {
        title: 'H1:PSL-FSS_RELOCK_COUNT [m-trend]', col: columns.d, top: rowTops[1], yMin: 2668.5, yMax: 2887.5,
        ticks: fssTicks, major: fssMajor,
        datasets: [ line(fssX, fssY, '#7f7f7f', 1.5) ]
    },
    {
        title: 'H1:PSL-NPRO_XTALTEMPSET [m-trend]', col: columns.a, top: rowTops[2], yMin: -1.62, yMax: 26.86,
        ticks: nproTicks, major: nproTicks,
        datasets: [
            line(coarseX, nproY, '#bcbd22', 2),
            spikes(nproSpikeX, nproSpikeLo, nproSpikeHi, 'rgba(188,189,34,0.45)', 1)
        ]
    },
    {
        title: 'H1:PSL-PMC_RELOCK_COUNT [m-trend]', col: columns.b, top: rowTops[2], yMin: 31.1, yMax: 46.87,
        ticks: relockTicks, major: relockMajor,
        datasets: [ line(relockX, relockY, '#17becf', 1.2) ]
    },
    {
        title: 'H1:PSL-PMC_TEMP_OUTPUT [m-trend]', col: columns.c, top: rowTops[2], yMin: 3.745, yMax: 5.54,
        ticks: tempTicks, major: tempMajor,
        datasets: [
            line(coarseX, tempHole, '#000000', 1.5, [3, 7]),
            ...band(coarseX, tempCoreHi, tempCoreLo, '#66c400', '#66c400'),
            spikes(tempHairX, tempHairLo, tempHairHi, '#66c400', 1.5),
            ...band(tempX, tempHi, tempLo, 'rgba(96,184,0,0.7)', 'rgba(96,184,0,0.6)'),
            spikes(tempBlockX, tempBlockLo, tempBlockHi, '#66c400', 3),
            spikes(tempThickX, tempThickLo, tempThickHi, '#66c400', 2),
            spikes(tempThinX, tempThinLo, tempThinHi, '#66c400', 1),
            spikes(tempDashX, tempDashLo, tempDashHi, 'rgba(102,196,0,0.8)', 1, [3, 2])
        ]
    },
    {
        title: 'H1:PSL-PWR_PMC_REFL_OUTPUT [m-trend]', col: columns.d, top: rowTops[2], yMin: 8.755, yMax: 11.34,
        ticks: reflTicks, major: reflMajor,
        datasets: [
            ...band(reflX, reflHi, reflLo, '#e8274f', '#e8274f'),
            spikes(reflSolidX, reflSolidLo, reflSolidHi, '#e8274f', 2),
            spikes(reflDashX, reflDashLo, reflDashHi, 'rgba(232,39,79,0.7)', 1, [3, 2]),
            spikes(reflHairX, reflHairLo, reflHairHi, 'rgba(232,39,79,0.75)', 1)
        ]
    },
    {
        title: 'H1:PSL-PWR_PMC_TRANS_OUTPUT [m-trend]', col: columns.a, top: rowTops[3], yMin: 52.96, yMax: 55.66,
        ticks: transTicks, labels: transLabels, major: transMajor,
        datasets: [
            ...band(transX, transHi, transLo, '#d0d766', '#d0d766'),
            spikes(transHairX, transHairLo, transHairHi, '#d0d766', 1),
            spikes(transWideX, transWideLo, transWideHi, '#d0d766', 5),
            spikes(transSolidX, transSolidLo, transSolidHi, '#d0d766', 1.5),
            spikes(transHaloX, transHaloLo, transHaloHi, 'rgba(208,215,102,0.45)', 4, [2, 2]),
            spikes(transDashX, transDashLo, transDashHi, 'rgba(208,215,102,0.7)', 1, [4, 3])
        ]
    }
];

const PLOT_HEIGHT = 272;
const AXIS_WIDTH = 47;
const TITLE_HEIGHT = 42;
const XAXIS_HEIGHT = 28;
const GREY = '#8a8a8a';

panels.forEach(p => {
    const canvas = document.createElement('canvas');
    const width = p.col[1] - p.col[0] + AXIS_WIDTH;
    const height = TITLE_HEIGHT + PLOT_HEIGHT + XAXIS_HEIGHT;
    canvas.width = width;
    canvas.height = height;
    canvas.style.left = (p.col[0] - AXIS_WIDTH) + 'px';
    canvas.style.top = (p.top - TITLE_HEIGHT) + 'px';
    canvas.style.width = width + 'px';
    canvas.style.height = height + 'px';
    document.body.appendChild(canvas);

    const labelled = p.labels || p.ticks;

    new Chart(canvas, {
        type: 'line',
        data: { datasets: p.datasets },
        options: {
            animation: false,
            responsive: false,
            devicePixelRatio: 1,
            events: [],
            layout: { padding: 0 },
            elements: {
                point: { radius: 0 },
                line: { tension: 0, borderCapStyle: 'butt', spanGaps: false }
            },
            plugins: {
                legend: { display: false },
                tooltip: { enabled: false },
                title: {
                    display: true,
                    text: p.title,
                    color: GREY,
                    fullSize: false,
                    font: { family: 'DejaVu Sans', size: 15, weight: 'normal', lineHeight: 1.2 },
                    padding: { top: 19, bottom: 5 }
                }
            },
            scales: {
                x: {
                    type: 'linear',
                    min: 0,
                    max: 1036000,
                    afterBuildTicks: axis => { axis.ticks = xGrid.map(value => ({ value })); },
                    afterFit: axis => { axis.height = XAXIS_HEIGHT; axis.paddingLeft = 0; axis.paddingRight = 0; },
                    border: { color: '#9a9a9a', width: 2 },
                    grid: {
                        drawTicks: false,
                        color: ctx => (ctx.tick.value === 1000000 ? '#2a2a2a' : '#161616')
                    },
                    ticks: {
                        autoSkip: false,
                        maxRotation: 0,
                        padding: 3,
                        color: GREY,
                        font: { family: 'DejaVu Sans', size: 12 },
                        callback: value => xLabels[xGrid.indexOf(value)]
                    }
                },
                y: {
                    type: 'linear',
                    min: p.yMin,
                    max: p.yMax,
                    afterBuildTicks: axis => { axis.ticks = p.ticks.map(value => ({ value })); },
                    afterFit: axis => { axis.width = AXIS_WIDTH; axis.paddingTop = 0; axis.paddingBottom = 0; },
                    border: { color: '#9a9a9a', width: 2 },
                    grid: {
                        drawTicks: false,
                        color: ctx => ((p.major || []).includes(ctx.tick.value) ? '#303030' : '#181818')
                    },
                    ticks: {
                        autoSkip: false,
                        padding: 6,
                        color: GREY,
                        font: { family: 'DejaVu Sans', size: 12 },
                        callback: value => (labelled.includes(value) ? String(value) : '')
                    }
                }
            }
        }
    });
});
</script>
</body>
</html>
